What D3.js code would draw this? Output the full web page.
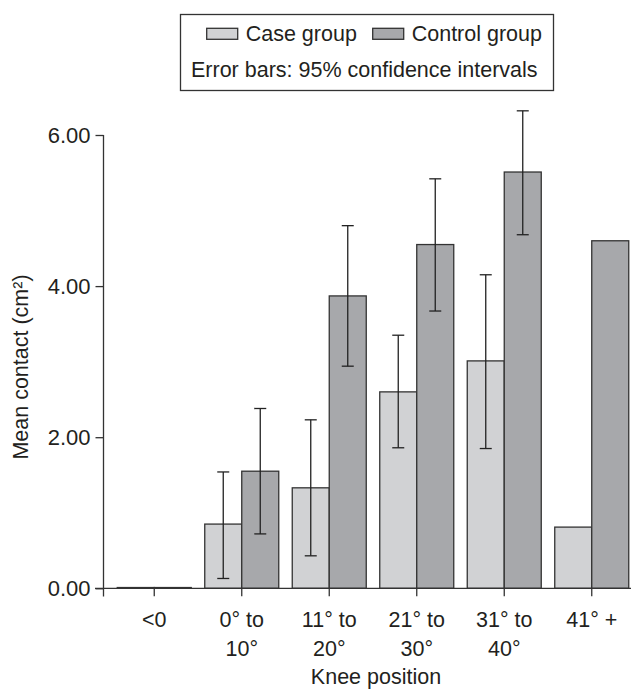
<!DOCTYPE html>
<html>
<head>
<meta charset="utf-8">
<script src="https://cdn.jsdelivr.net/npm/d3@7"></script>
<style>
  body { margin: 0; background: #fff; }
  svg { display: block; }
  text { font-family: "Liberation Sans", Arial, sans-serif; fill: #231f20; }
</style>
</head>
<body>
<svg></svg>
<script>
const width = 631
const height = 692

// knee position categories, tick labels split in lines
const categories = ["<0", "0° to 10°", "11° to 20°", "21° to 30°", "31° to 40°", "41° +"]
const tickLines = [["<0"], ["0° to", "10°"], ["11° to", "20°"], ["21° to", "30°"], ["31° to", "40°"], ["41° +"]]

const groups = ["Case group", "Control group"]
const caseMean = [0.01, 0.85, 1.33, 2.60, 3.01, 0.81]
const caseLow = [null, 0.13, 0.43, 1.86, 1.85, null]
const caseHigh = [null, 1.54, 2.23, 3.35, 4.15, null]
const controlMean = [0.01, 1.55, 3.87, 4.55, 5.51, 4.60]
const controlLow = [null, 0.72, 2.94, 3.67, 4.68, null]
const controlHigh = [null, 2.38, 4.80, 5.42, 6.32, null]

const yTicks = [0, 2, 4, 6]

const colors = { "Case group": "#d1d2d4", "Control group": "#a7a8ab" }
const ink = "#333"

const svg = d3.select('svg')
  .attr('width', width)
  .attr('height', height)

var x = d3.scaleBand()
  .domain(categories)
  .range([110.5, 635.5])

var xSub = d3.scaleBand()
  .domain(groups)
  .range([x.bandwidth() / 2 - 37, x.bandwidth() / 2 + 37])

var y = d3.scaleLinear()
  .domain([0, 6])
  .range([588.3, 135])

// flatten into bar records
var bars = []
categories.forEach((c, i) => {
  bars.push({ cat: c, group: "Case group", mean: caseMean[i], lo: caseLow[i], hi: caseHigh[i] })
  bars.push({ cat: c, group: "Control group", mean: controlMean[i], lo: controlLow[i], hi: controlHigh[i] })
})

svg.append("g")
  .selectAll("rect")
  .data(bars)
  .enter()
  .append("rect")
  .attr("x", d => x(d.cat) + xSub(d.group))
  .attr("y", d => y(d.mean))
  .attr("width", xSub.bandwidth())
  .attr("height", d => y(0) - y(d.mean))
  .attr("fill", d => colors[d.group])
  .attr("stroke", ink)
  .attr("stroke-width", 1.3)

// error bars
var err = svg.append("g")
  .selectAll("g")
  .data(bars.filter(d => d.lo != null))
  .enter()
  .append("g")
  .attr("stroke", "#222")
  .attr("stroke-width", 1.3)

function cx(d) { return x(d.cat) + xSub(d.group) + xSub.bandwidth() / 2 }

err.append("line")
  .attr("x1", cx).attr("x2", cx)
  .attr("y1", d => y(d.lo)).attr("y2", d => y(d.hi))
err.append("line")
  .attr("x1", d => cx(d) - 6).attr("x2", d => cx(d) + 6)
  .attr("y1", d => y(d.lo)).attr("y2", d => y(d.lo))
err.append("line")
  .attr("x1", d => cx(d) - 6).attr("x2", d => cx(d) + 6)
  .attr("y1", d => y(d.hi)).attr("y2", d => y(d.hi))

// y axis
var yAxis = svg.append("g")
  .attr("transform", "translate(103.5,0)")
  .call(d3.axisLeft(y).tickValues(yTicks).tickFormat(d3.format(".2f")).tickSize(8).tickSizeOuter(0).tickPadding(5))
yAxis.select(".domain").remove()
yAxis.selectAll(".tick line").attr("stroke", ink).attr("stroke-width", 1.3)
yAxis.selectAll(".tick text")
  .style("font-size", "22px")
  .style("font-family", "Liberation Sans, Arial, sans-serif")
  .attr("fill", "#231f20")

svg.append("line")
  .attr("x1", 103.5).attr("x2", 103.5)
  .attr("y1", y(6)).attr("y2", 596.5)
  .attr("stroke", ink).attr("stroke-width", 1.3)

// x axis
var xAxis = svg.append("g")
  .attr("transform", "translate(0," + y(0) + ")")
  .call(d3.axisBottom(x).tickSize(8).tickSizeOuter(0).tickFormat(""))
xAxis.select(".domain").remove()
xAxis.selectAll(".tick line").attr("stroke", ink).attr("stroke-width", 1.3)

svg.append("line")
  .attr("x1", 95).attr("x2", width)
  .attr("y1", y(0)).attr("y2", y(0))
  .attr("stroke", ink).attr("stroke-width", 1.3)

var xLabels = svg.append("g")
  .selectAll("text")
  .data(categories)
  .enter()
  .append("text")
  .attr("x", d => x(d) + x.bandwidth() / 2)
  .attr("y", 627)
  .attr("text-anchor", "middle")
  .style("font-size", "21.5px")

xLabels.selectAll("tspan")
  .data((d, i) => tickLines[i])
  .enter()
  .append("tspan")
  .attr("x", function() { return d3.select(this.parentNode).attr("x") })
  .attr("dy", (d, i) => i == 0 ? 0 : 29)
  .text(d => d)

svg.append("text")
  .attr("x", 376)
  .attr("y", 684)
  .attr("text-anchor", "middle")
  .style("font-size", "21.5px")
  .text("Knee position")

svg.append("text")
  .attr("transform", "translate(28,367) rotate(-90)")
  .attr("text-anchor", "middle")
  .style("font-size", "21.5px")
  .text("Mean contact (cm²)")

// legend
var legend = svg.append("g")
legend.append("rect")
  .attr("x", 180.5).attr("y", 14.5)
  .attr("width", 373).attr("height", 76)
  .attr("fill", "none")
  .attr("stroke", ink)
  .attr("stroke-width", 1.3)

var legendX = [206.7, 372.7]
var item = legend.selectAll(".item")
  .data(groups)
  .enter()
  .append("g")
  .attr("class", "item")
  .attr("transform", (d, i) => "translate(" + legendX[i] + ",28.3)")

item.append("rect")
  .attr("width", 31).attr("height", 11)
  .attr("fill", d => colors[d])
  .attr("stroke", ink)
  .attr("stroke-width", 1.3)

item.append("text")
  .attr("x", 39)
  .attr("y", 12.4)
  .style("font-size", "21.5px")
  .text(d => d)

legend.append("text")
  .attr("x", 191)
  .attr("y", 76.5)
  .style("font-size", "21.5px")
  .text("Error bars: 95% confidence intervals")
</script>
</body>
</html>
